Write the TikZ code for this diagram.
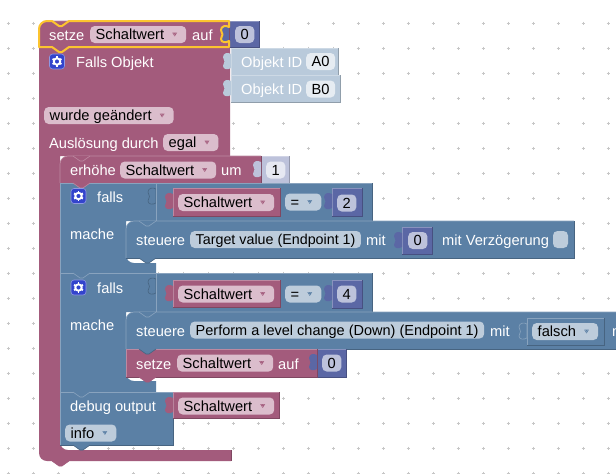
\documentclass[tikz,border=0pt]{standalone}
\usepackage{fontspec}
\setmainfont{Liberation Sans}
\definecolor{blkmaroon}{HTML}{A35B7C}
\definecolor{blkblue}{HTML}{5B80A5}
\definecolor{blkpurple}{HTML}{5B67A5}
\definecolor{blkpale}{HTML}{B9CADB}
\definecolor{blkpalepurple}{HTML}{BDC2DB}
\definecolor{fieldpink}{HTML}{DBBDCC}
\definecolor{fieldblue}{HTML}{BDCCDB}
\definecolor{fieldpurple}{HTML}{BDC2DB}
\definecolor{fieldpale}{HTML}{E6ECF2}
\definecolor{fieldpalepurple}{HTML}{E6E8F2}
\definecolor{blkorange}{HTML}{FCC42F}
\definecolor{blkicon}{HTML}{3344CC}
\newcommand{\ddgap}{\kern16.5pt}
\newcommand{\blockbox}[5]{%
    \fill[#1] (#2,#3) rectangle (#4,#5);
    \draw[#1!72!white, line width=0.6pt] (#2,#5) -- (#2,#3) -- (#4,#3);
    \draw[#1!78!black, line width=0.6pt] (#4,#3) -- (#4,#5) -- (#2,#5);
}
\newcommand{\firstbox}[5]{%
    \fill[#1] (#2,#5) [rounded corners=8pt] -- (#2,#3) [sharp corners] -- (#4,#3) -- (#4,#5) -- cycle;
    \draw[#1!72!white, line width=0.6pt] (#2,#5) [rounded corners=8pt] -- (#2,#3) [sharp corners] -- (#4,#3);
    \draw[#1!78!black, line width=0.6pt] (#4,#3) -- (#4,#5) -- (#2,#5);
}
\newcommand{\valuetab}[3]{%
    \path[#3] (#1,#2+6) .. controls (#1-3,#2+4) and (#1-8,#2+5) .. (#1-8,#2+9) .. controls (#1-8,#2+11) and (#1-6.5,#2+12) .. (#1-6.5,#2+13.5) .. controls (#1-6.5,#2+15) and (#1-8,#2+16) .. (#1-8,#2+18) .. controls (#1-8,#2+21.5) and (#1-3,#2+22) .. (#1,#2+20) -- cycle;
}
\newcommand{\stacktab}[4]{%
    \fill[#3] (#1+13,#2) -- (#1+20,#2+5) -- (#1+23,#2+5) -- (#1+30,#2) -- cycle;
    \draw[#4, line width=0.6pt] (#1+13,#2) -- (#1+20,#2+5) -- (#1+23,#2+5) -- (#1+30,#2);
}
\tikzset{
    blk/chart/.style={x=1pt, y=-1pt, font=\fontsize{14.67}{17}\selectfont},
    blk/label/.style={anchor=base west, inner sep=0pt, text=white},
    blk/text/.style={rectangle, rounded corners=4.5pt, fill=#1, text=black, anchor=west, inner xsep=5.5pt, inner ysep=0.5pt, text height=13pt, text depth=3pt},
    blk/drop/.style 2 args={blk/text=#1, path picture={\fill[#2] ([xshift=-14pt,yshift=2pt]path picture bounding box.east) -- ++(5pt,0pt) -- ++(-2.5pt,-4pt) -- cycle;}},
    blk/pinkdrop/.style={blk/drop={fieldpink}{blkmaroon}},
    blk/bluedrop/.style={blk/drop={fieldblue}{blkblue}},
    blk/dot/.style={draw=black!22, line width=0.5pt},
    blk/selected/.style={draw=blkorange, line width=2pt, line join=round},
    blk/gear/.pic={
        \fill[blkicon, draw=blkicon!55!white, line width=0.6pt, rounded corners=3pt] (-7.5,-7.5) rectangle (7.5,7.5);
        \foreach \a in {30,90,...,330}
            \draw[white, line width=1.9pt] (0,0) ++(\a:3.2) -- ++(\a:1.9);
        \draw[white, line width=1.9pt] (0,0) circle (3.2);
    }
}
\begin{document}
\begin{tikzpicture}[blk/chart]
    \useasboundingbox (0,0) rectangle (616,474);
    \clip (0,0) rectangle (616,474);
    \fill[white] (0,0) rectangle (616,474);
    \foreach \gx in {8,33,...,608}
        \foreach \gy in {23,48,...,473} {
            \draw[blk/dot] (\gx-1.5,\gy) -- (\gx+1.5,\gy);
            \draw[blk/dot] (\gx,\gy-1.5) -- (\gx,\gy+1.5);
        }

    \fill[blkmaroon] (39,47) -- (230,47) -- (230,156) -- (60,156) [rounded corners=8pt] -- (60,450) [sharp corners] -- (231,450) -- (231,461) [rounded corners=8pt] -- (39,461) [sharp corners] -- cycle;
    \draw[blkmaroon!78!black, line width=0.6pt] (231,450) -- (231,461);
    \stacktab{39}{461}{blkmaroon}{blkmaroon}
    \blockbox{blkpale}{231}{48}{338}{75}
    \blockbox{blkpale}{231}{75}{340}{102}
    \valuetab{231}{48}{fill=blkpale}
    \valuetab{231}{75}{fill=blkpale}
    \blockbox{blkpurple}{229}{21}{259}{47}
    \firstbox{blkmaroon}{39}{21}{229}{47}
    \valuetab{229}{21}{fill=blkpurple}
    \fill[blkmaroon] (52,47) -- (59,52) -- (62,52) -- (69,47) -- cycle;
    \draw[blk/selected] (39,47) [rounded corners=8pt] -- (39,21) [sharp corners] -- (52,21) -- (59,26) -- (62,26) -- (69,21) -- (229,21) -- (229,27) .. controls (226,25) and (221,26) .. (221,30) .. controls (221,32) and (222.5,33) .. (222.5,34.5) .. controls (222.5,36) and (221,37) .. (221,39) .. controls (221,42.5) and (226,43) .. (229,41) -- (229,47) -- (69,47) -- (62,52) -- (59,52) -- (52,47) -- cycle;
    \node[blk/label] (setzetop) at (49,40) {setze};
    \node[blk/pinkdrop] (vartop) at (90,34.5) {Schaltwert\ddgap};
    \node[blk/label] (auftop) at (192,40) {auf};
    \node[blk/text=fieldpurple] (zerotop) at (235,34.5) {0};
    \pic at (57,61.5) {blk/gear};
    \node[blk/label] (fallsobjekt) at (76,67) {Falls Objekt};
    \node[blk/label] (objekta) at (241,67) {Objekt ID};
    \node[blk/text=fieldpale] (ida) at (306,61.5) {A0};
    \node[blk/label] (objektb) at (241,94) {Objekt ID};
    \node[blk/text=fieldpale] (idb) at (306,89) {B0};
    \node[blk/pinkdrop] (changed) at (44,115.5) {wurde geändert\ddgap};
    \node[blk/label] (trigger) at (49,148) {Auslösung durch};
    \node[blk/pinkdrop] (egal) at (163,142.5) {egal\ddgap};

    \blockbox{blkpalepurple}{261}{156}{289}{183}
    \firstbox{blkmaroon}{60}{156}{261}{183}
    \valuetab{261}{156}{fill=blkpalepurple}
    \stacktab{60}{156}{blkmaroon}{blkmaroon!72!white}
    \node[blk/label] (erhoehe) at (70,175) {erhöhe};
    \node[blk/pinkdrop] (varinc) at (120,170) {Schaltwert\ddgap};
    \node[blk/label] (um) at (221,175) {um};
    \node[blk/text=fieldpalepurple] (one) at (266,170) {1};

    \fill[blkblue] (60,183) -- (372,183) -- (372,221) -- (126,221) [rounded corners=8pt] -- (126,263) [sharp corners] -- (156,263) -- (156,273) -- (60,273) -- cycle;
    \draw[blkblue!72!white, line width=0.6pt] (60,273) -- (60,183) -- (372,183);
    \draw[blkblue!78!black, line width=0.6pt] (372,183) -- (372,221);
    \valuetab{156}{183}{fill=blkblue, draw=blkblue!78!black, line width=0.6pt}
    \draw[blkblue!72!white, line width=0.6pt] (156,183) -- (156,221);
    \stacktab{60}{183}{blkmaroon}{blkmaroon!72!white}
    \pic at (78.5,196) {blk/gear};
    \node[blk/label] (fallsa) at (97,202) {falls};
    \node[blk/label] (machea) at (70,239) {mache};
    \blockbox{blkmaroon}{173}{188}{280}{216}
    \valuetab{173}{188}{fill=blkmaroon}
    \node[blk/pinkdrop] (varifa) at (178,202.5) {Schaltwert\ddgap};
    \node[blk/bluedrop] (eqa) at (285,202) {=\ddgap};
    \blockbox{blkpurple}{332}{188}{362}{216}
    \valuetab{332}{188}{fill=blkpurple}
    \node[blk/text=fieldpurple] (two) at (337,203) {2};

    \firstbox{blkblue}{126}{221}{574}{258}
    \stacktab{126}{221}{blkblue}{blkblue!72!white}
    \stacktab{126}{258}{blkblue}{blkblue!78!black}
    \node[blk/label] (steuerea) at (136,245) {steuere};
    \node[blk/text=fieldblue, font=\fontsize{14.3}{17}\selectfont] (target) at (190,239.5) {Target value (Endpoint 1)};
    \node[blk/label] (mita) at (366,245) {mit};
    \blockbox{blkpurple}{402}{227}{432}{254}
    \valuetab{402}{227}{fill=blkpurple}
    \node[blk/text=fieldpurple] (zeroa) at (408,240.5) {0};
    \node[blk/label] (delay) at (442,245) {mit Verzögerung};
    \node[rectangle, rounded corners=4.5pt, fill=fieldblue, minimum width=15pt, minimum height=17pt, inner sep=0pt] (check) at (560.5,239.5) {};

    \fill[blkblue] (60,273) -- (372,273) -- (372,312) -- (126,312) [rounded corners=8pt] -- (126,381) [sharp corners] -- (156,381) -- (156,392) -- (60,392) -- cycle;
    \draw[blkblue!72!white, line width=0.6pt] (60,392) -- (60,273) -- (372,273);
    \draw[blkblue!78!black, line width=0.6pt] (372,273) -- (372,312);
    \valuetab{156}{273}{fill=blkblue, draw=blkblue!78!black, line width=0.6pt}
    \draw[blkblue!72!white, line width=0.6pt] (156,273) -- (156,312);
    \stacktab{60}{273}{blkblue}{blkblue!72!white}
    \pic at (78.5,287.5) {blk/gear};
    \node[blk/label] (fallsb) at (97,293) {falls};
    \node[blk/label] (macheb) at (70,330) {mache};
    \blockbox{blkmaroon}{173}{280}{280}{307}
    \valuetab{173}{280}{fill=blkmaroon}
    \node[blk/pinkdrop] (varifb) at (178,294) {Schaltwert\ddgap};
    \node[blk/bluedrop] (eqb) at (285,294) {=\ddgap};
    \blockbox{blkpurple}{332}{280}{362}{308}
    \valuetab{332}{280}{fill=blkpurple}
    \node[blk/text=fieldpurple] (four) at (337,294) {4};

    \firstbox{blkblue}{126}{312}{616}{349}
    \stacktab{126}{312}{blkblue}{blkblue!72!white}
    \node[blk/label] (steuereb) at (136,336) {steuere};
    \node[blk/text=fieldblue, font=\fontsize{14.5}{17}\selectfont] (perform) at (190,330) {Perform a level change (Down) (Endpoint 1)};
    \node[blk/label] (mitb) at (490,336) {mit};
    \blockbox{blkblue}{527}{318}{604}{345}
    \valuetab{527}{318}{fill=blkblue, draw=blkblue!72!white, line width=0.6pt}
    \node[blk/bluedrop] (falsch) at (532,331.5) {falsch\ddgap};
    \node[blk/label] (mitc) at (612,336) {m};

    \blockbox{blkpurple}{317}{349}{346}{377}
    \blockbox{blkmaroon}{126}{349}{317}{377}
    \valuetab{317}{349}{fill=blkpurple}
    \stacktab{126}{349}{blkblue}{blkblue!78!black}
    \stacktab{126}{377}{blkmaroon}{blkmaroon}
    \node[blk/label] (setzeb) at (136,369) {setze};
    \node[blk/pinkdrop] (varset) at (177,363) {Schaltwert\ddgap};
    \node[blk/label] (aufb) at (278,369) {auf};
    \node[blk/text=fieldpurple] (zerob) at (322,363) {0};

    \blockbox{blkblue}{60}{392}{173}{445}
    \stacktab{60}{392}{blkblue}{blkblue!72!white}
    \stacktab{60}{445}{blkblue}{blkblue!78!black}
    \node[blk/label] (debug) at (70,411) {debug output};
    \blockbox{blkmaroon}{173}{392}{279}{418}
    \valuetab{173}{392}{fill=blkmaroon}
    \node[blk/pinkdrop] (vardebug) at (178,406) {Schaltwert\ddgap};
    \node[blk/bluedrop] (info) at (65,433) {info\ddgap};
\end{tikzpicture}
\end{document}
